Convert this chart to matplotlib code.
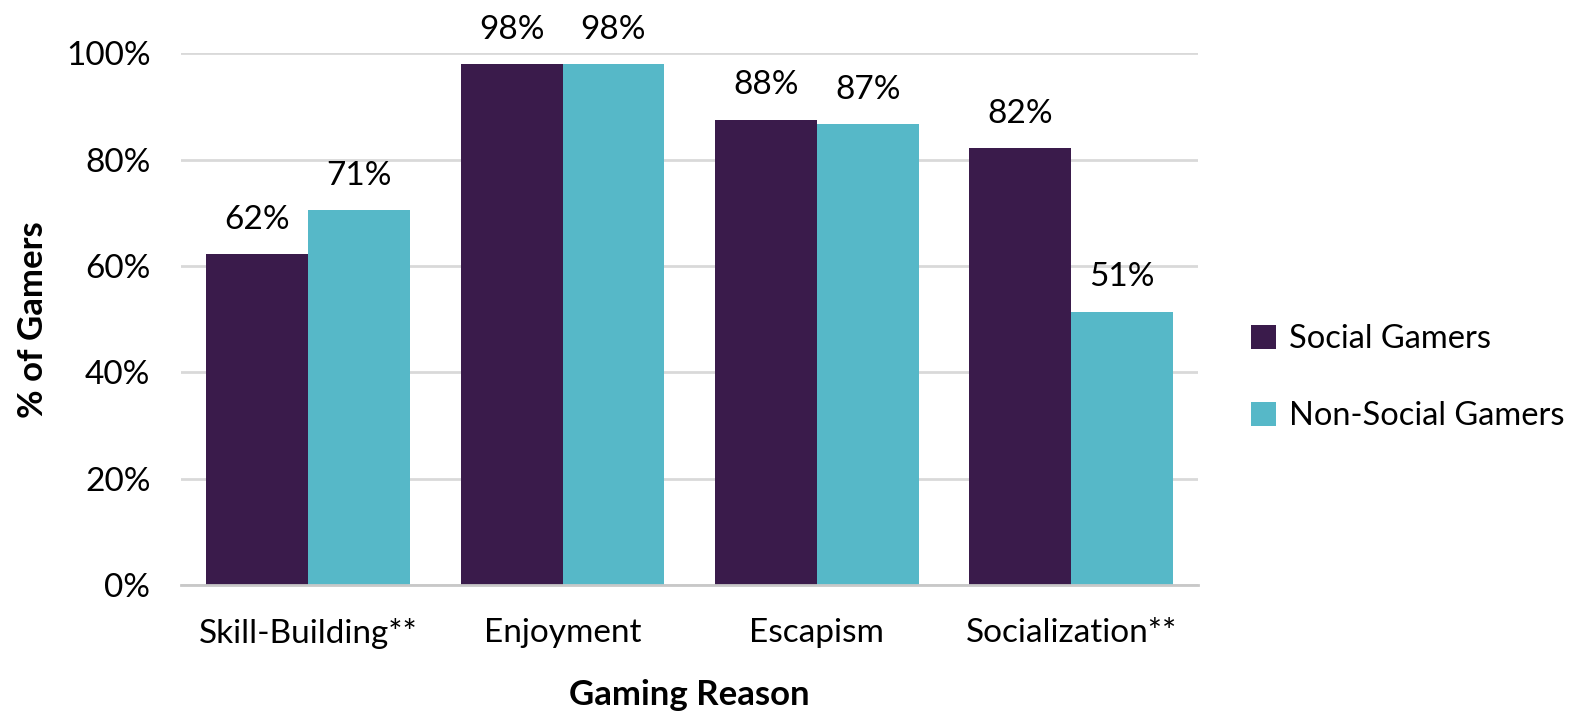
import numpy as np
import matplotlib.pyplot as plt

plt.rcParams['font.family'] = ['Lato', 'DejaVu Sans']

reasons = ["Skill-Building**", "Enjoyment", "Escapism", "Socialization**"]
social = [62.2, 98.0, 87.5, 82.2]
non_social = [70.5, 98.0, 86.7, 51.4]
social_lbl = ["62%", "98%", "88%", "82%"]
non_social_lbl = ["71%", "98%", "87%", "51%"]

C_SOC = "#3a1b4b"
C_NON = "#56b8c8"

fig = plt.figure(figsize=(15.81, 7.13), dpi=100)
ax = fig.add_axes([0.1145, 0.1795, 0.6435, 0.7455])

x = np.arange(len(reasons))
w = 0.4
b1 = ax.bar(x - w / 2, social, w, color=C_SOC, label="Social Gamers", zorder=3)
b2 = ax.bar(x + w / 2, non_social, w, color=C_NON, label="Non-Social Gamers", zorder=3)
ax.bar_label(b1, labels=social_lbl, padding=14, fontsize=24)
ax.bar_label(b2, labels=non_social_lbl, padding=14, fontsize=24)

ax.set_xlim(-0.5, 3.5)
ax.set_ylim(0, 100)
ax.set_yticks(range(0, 101, 20))
ax.set_yticklabels([f"{v}%" for v in range(0, 101, 20)], fontsize=24)
ax.set_xticks(x)
ax.set_xticklabels(reasons, fontsize=24)
ax.tick_params(axis="both", length=0)
ax.tick_params(axis="x", pad=24)
ax.tick_params(axis="y", pad=22)
ax.grid(axis="y", color="#d9d9d9", lw=2, zorder=0)
for s in ["top", "right", "left"]:
    ax.spines[s].set_visible(False)
ax.spines["bottom"].set_color("#c8c8c8")
ax.spines["bottom"].set_linewidth(2)
ax.spines["bottom"].set_zorder(4)

ax.set_ylabel("% of Gamers", fontsize=25, fontweight="bold", labelpad=12)
ax.set_xlabel("Gaming Reason", fontsize=25, fontweight="bold", labelpad=21)

ax.legend(loc="center left", bbox_to_anchor=(1.052, 0.39), frameon=False,
          fontsize=23.5, handlelength=0.75, handleheight=0.75, handletextpad=0.4,
          labelspacing=1.45, borderpad=0, borderaxespad=0)

fig.savefig("out.png", dpi=100, facecolor="white")
